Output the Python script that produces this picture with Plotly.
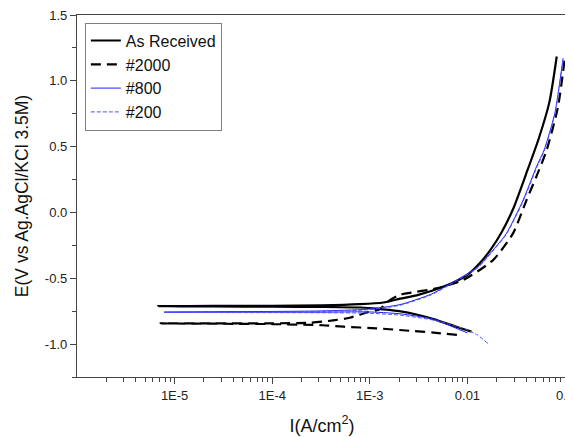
import plotly.graph_objects as go

# ---- data (current density A/cm^2, potential V) ----
# path: cathodic end -> low-current spike near Ecorr -> anodic end
asrec_I = [0.011, 0.0078, 0.0045, 0.0030, 0.0020, 0.00117, 0.0008, 3.2e-4, 1e-4, 2.5e-5, 6.8e-6,
           2.5e-5, 1e-4, 3.2e-4, 7.9e-4, 0.00138, 0.00204, 0.00302, 0.00562, 0.00977, 0.0132,
           0.0170, 0.0224, 0.0295, 0.0398, 0.0537, 0.0692, 0.0822]
asrec_E = [-0.905, -0.87, -0.81, -0.775, -0.75, -0.73, -0.722, -0.718, -0.716, -0.714, -0.712,
           -0.710, -0.709, -0.706, -0.697, -0.684, -0.655, -0.63, -0.565, -0.48, -0.39,
           -0.29, -0.15, 0.03, 0.29, 0.56, 0.84, 1.185]

g2000_I = [0.0078, 0.0045, 0.00257, 0.00117, 5.4e-4, 3.3e-4, 1e-4, 2.5e-5, 7.2e-6,
           2.5e-5, 1e-4, 2.4e-4, 4.2e-4, 6.2e-4, 9.3e-4, 0.00126, 0.00158, 0.00204, 0.00237,
           0.00481, 0.00902, 0.0183, 0.0293, 0.0403, 0.0513, 0.0646, 0.0847, 0.0993]
g2000_E = [-0.93, -0.913, -0.899, -0.88, -0.868, -0.857, -0.848, -0.845, -0.843,
           -0.843, -0.842, -0.838, -0.82, -0.80, -0.76, -0.735, -0.67, -0.625, -0.615,
           -0.577, -0.514, -0.362, -0.159, 0.094, 0.28, 0.47, 0.803, 1.171]

g800_I = [0.0100, 0.0066, 0.0045, 0.00204, 9.3e-4, 3.2e-4, 1e-4, 2.5e-5, 7.8e-6,
          2.5e-5, 1e-4, 3.2e-4, 9.3e-4, 0.00204, 0.00427, 0.00771, 0.0128, 0.0183, 0.0251,
          0.0372, 0.0509, 0.0610, 0.0785, 0.0955]
g800_E = [-0.915, -0.86, -0.81, -0.77, -0.755, -0.758, -0.758, -0.758, -0.757,
          -0.754, -0.752, -0.748, -0.735, -0.70, -0.62, -0.514, -0.413, -0.286, -0.159,
          0.094, 0.347, 0.474, 0.753, 1.171]

g200_I = [0.0162, 0.0126, 0.0098, 0.0066, 0.0045, 0.00204, 9.3e-4, 3.2e-4, 1e-4, 1.74e-5,
          1e-4, 3.2e-4, 9.3e-4, 0.00204, 0.00427, 0.00771, 0.0128, 0.0183, 0.0251,
          0.0372, 0.0509, 0.0610, 0.0785, 0.0955]
g200_E = [-0.995, -0.93, -0.89, -0.85, -0.818, -0.78, -0.765, -0.762, -0.761, -0.760,
          -0.757, -0.752, -0.74, -0.705, -0.625, -0.52, -0.42, -0.292, -0.165,
          0.085, 0.335, 0.465, 0.745, 1.16]

x_tickvals = [1e-5, 1e-4, 1e-3, 1e-2, 1e-1]
x_ticktext = ["1E-5", "1E-4", "1E-3", "0.01", "0.1"]
y_tickvals = [-1.0, -0.5, 0.0, 0.5, 1.0, 1.5]
y_ticktext = ["-1.0", "-0.5", "0.0", "0.5", "1.0", "1.5"]

x_minor = [k * 10.0 ** d for d in range(-6, -1) for k in range(2, 10)]

fig = go.Figure()
fig.add_trace(go.Scatter(x=asrec_I, y=asrec_E, mode="lines", name="As Received",
                         line=dict(color="#000000", width=2.2, shape="spline", smoothing=0.6)))
fig.add_trace(go.Scatter(x=g2000_I, y=g2000_E, mode="lines", name="#2000",
                         line=dict(color="#000000", width=2.2, dash="10px,6px",
                                   shape="spline", smoothing=0.6)))
fig.add_trace(go.Scatter(x=g800_I, y=g800_E, mode="lines", name="#800",
                         line=dict(color="#2020ff", width=1, shape="spline", smoothing=0.6)))
fig.add_trace(go.Scatter(x=g200_I, y=g200_E, mode="lines", name="#200",
                         line=dict(color="#5050ff", width=1, dash="4px,2px",
                                   shape="spline", smoothing=0.6)))

axis_font = dict(family="Arial, Liberation Sans, sans-serif", size=13, color="#222")

# the page body has an 8px default margin; the figure size/margins compensate for it
fig.update_layout(
    width=573, height=429,
    margin=dict(l=69, r=14, t=7, b=60, autoexpand=False),
    paper_bgcolor="white", plot_bgcolor="white",
    font=dict(family="Arial, Liberation Sans, sans-serif", color="#111"),
    showlegend=True,
    legend=dict(x=0.016, y=0.979, xanchor="left", yanchor="top",
                bordercolor="#808080", borderwidth=1, bgcolor="white",
                font=dict(size=16, color="#111"), tracegroupgap=0),
    xaxis=dict(type="log", range=[-6, -0.98], showgrid=False, zeroline=False,
               automargin=False, ticklabeloverflow="allow",
               showline=True, linecolor="#444", linewidth=1.3, mirror=True,
               ticks="outside", ticklen=6, tickwidth=1, tickcolor="#444",
               tickmode="array", tickvals=x_tickvals, ticktext=x_ticktext,
               tickfont=axis_font,
               minor=dict(tickmode="array", tickvals=x_minor, ticks="outside",
                          ticklen=3.5, tickwidth=1, tickcolor="#444", showgrid=False),
               title=dict(text="I(A/cm<sup>2</sup>)", font=dict(size=18, color="#111"),
                          standoff=17)),
    yaxis=dict(range=[-1.25, 1.5], showgrid=False, zeroline=False,
               automargin=False, ticklabeloverflow="allow",
               showline=True, linecolor="#444", linewidth=1.3, mirror=True,
               ticks="outside", ticklen=6, tickwidth=1, tickcolor="#444",
               tickmode="array", tickvals=y_tickvals, ticktext=y_ticktext,
               tickfont=axis_font,
               minor=dict(dtick=0.25, tick0=0, ticks="outside", ticklen=3.5,
                          tickwidth=1, tickcolor="#444", showgrid=False),
               title=dict(text="E(V vs Ag.AgCl/KCl 3.5M)", font=dict(size=17.5, color="#111"),
                          standoff=11)),
)

fig.write_html("out.html")
